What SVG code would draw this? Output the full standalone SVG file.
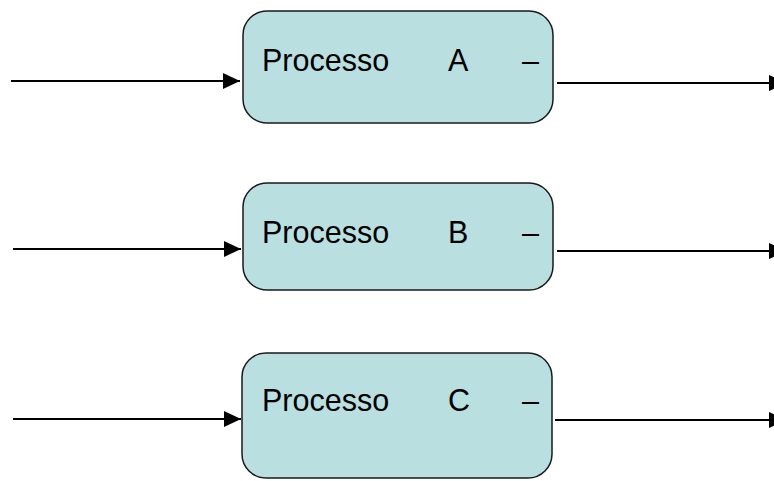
<svg xmlns="http://www.w3.org/2000/svg" width="774" height="481" viewBox="0 0 774 481">
  <style>
    .box { fill: #b9dfe0; stroke: #1a1a1a; stroke-width: 1.5; }
    .lbl { font-family: "Liberation Sans", Arial, sans-serif; font-size: 30.5px; fill: #000; }
    .wire { stroke: #000; stroke-width: 2; fill: none; marker-end: url(#arrow); }
  </style>
  <defs>
    <marker id="arrow" markerUnits="userSpaceOnUse" markerWidth="18" markerHeight="16" refX="17" refY="8" orient="auto">
      <path d="M0,0 L17,8 L0,16 Z" fill="#000"/>
    </marker>
  </defs>

  <g id="connectors">
    <line class="wire" x1="11" y1="81" x2="240" y2="81"/>
    <line class="wire" x1="557" y1="83" x2="786" y2="83"/>
    <line class="wire" x1="13" y1="249" x2="241" y2="249"/>
    <line class="wire" x1="557" y1="251" x2="786" y2="251"/>
    <line class="wire" x1="13" y1="419" x2="241" y2="419"/>
    <line class="wire" x1="555" y1="420" x2="786" y2="420"/>
  </g>

  <g id="processo-a">
    <rect class="box" x="243" y="11" width="310" height="112" rx="24" ry="24"/>
    <text class="lbl" y="71"><tspan x="262">Processo</tspan><tspan x="448">A</tspan><tspan x="522">–</tspan></text>
  </g>

  <g id="processo-b">
    <rect class="box" x="243" y="183" width="310" height="107" rx="24" ry="24"/>
    <text class="lbl" y="243"><tspan x="262">Processo</tspan><tspan x="448">B</tspan><tspan x="522">–</tspan></text>
  </g>

  <g id="processo-c">
    <rect class="box" x="242" y="353" width="310" height="125" rx="24" ry="24"/>
    <text class="lbl" y="411"><tspan x="262">Processo</tspan><tspan x="448">C</tspan><tspan x="522">–</tspan></text>
  </g>
</svg>
